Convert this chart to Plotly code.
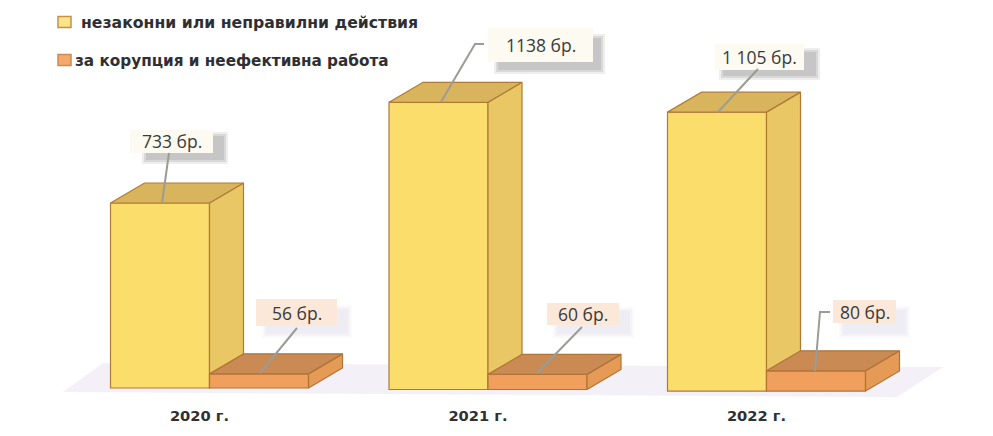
import plotly.graph_objects as go

years = ["2020 г.", "2021 г.", "2022 г."]
illegal = [733, 1138, 1105]
corruption = [56, 60, 80]
illegal_labels = ["733 бр.", "1138 бр.", "1 105 бр."]
corruption_labels = ["56 бр.", "60 бр.", "80 бр."]
legend_names = ["незаконни или неправилни действия", "за корупция и неефективна работа"]

W, H = 993, 436
PLOT_H = 403
X_UNIT = 278.5       # px per group
Y_UNIT = 0.2524      # px per item
X0 = 209.5           # px of group 0 centre
Y0 = 388             # px of value 0
BAR_W = 99 / X_UNIT
DX = 34 / X_UNIT
DY = 20 / Y_UNIT
DROP = 6             # the photographed page is slightly tilted

xr = [-X0 / X_UNIT, (W - X0) / X_UNIT]
yr = [(Y0 - PLOT_H) / Y_UNIT, Y0 / Y_UNIT]
positions = list(range(len(years)))
bases = [-DROP * i for i in positions]

YEL = dict(front="#fbdd6c", side="#e9c765", top="#d8b45c", line="#b07a36")
ORG = dict(front="#f0a05c", side="#e59a55", top="#c98a54", line="#b07436")


def faces(fig, xpos, base, val, pal, xa, ya):
    x0, x1 = xpos, xpos + BAR_W
    t = base + val
    for xs, ys, col in (
        ([x1, x1 + DX, x1 + DX, x1, x1], [base, base + DY, t + DY, t, base], pal["side"]),
        ([x0, x1, x1 + DX, x0 + DX, x0], [t, t, t + DY, t + DY, t], pal["top"]),
    ):
        fig.add_trace(go.Scatter(x=xs, y=ys, mode="lines", fill="toself", fillcolor=col,
                                 line=dict(color=pal["line"], width=1.2), hoverinfo="skip",
                                 showlegend=False, xaxis=xa, yaxis=ya))


fig = go.Figure()
fig.add_trace(go.Bar(x=positions, y=illegal, base=bases, width=BAR_W, offset=-BAR_W,
                     name=legend_names[0], showlegend=False,
                     marker=dict(color=YEL["front"], line=dict(color=YEL["line"], width=1.2))))
for p, b, v in zip(positions, bases, illegal):
    faces(fig, p - BAR_W, b, v, YEL, "x", "y")
fig.add_trace(go.Bar(x=positions, y=corruption, base=bases, width=BAR_W, offset=0,
                     name=legend_names[1], showlegend=False, xaxis="x2", yaxis="y2",
                     marker=dict(color=ORG["front"], line=dict(color=ORG["line"], width=1.2))))
for p, b, v in zip(positions, bases, corruption):
    faces(fig, p, b, v, ORG, "x2", "y2")


def px(x):
    return x / W


def py(y):
    return 1 - y / PLOT_H


shapes, annotations = [], []


def rect(x0, y0, x1, y1, color, layer="above"):
    shapes.append(dict(type="rect", xref="paper", yref="paper", x0=px(x0), x1=px(x1), y0=py(y0), y1=py(y1),
                       fillcolor=color, line=dict(width=0), layer=layer))


def path(points, color=None, line=None, layer="above"):
    d = "M" + " L".join(f"{px(a):.5f},{py(b):.5f}" for a, b in points)
    if color:
        d += " Z"
    s = dict(type="path", xref="paper", yref="paper", path=d, layer=layer,
             line=line or dict(width=0))
    if color:
        s["fillcolor"] = color
    shapes.append(s)


# floor
path([(63, 392), (103, 363), (943, 367), (897, 397)], color="#f3f0f7", layer="below")

# callouts: box, shadow, leader, text
callouts = [
    (illegal_labels[0], (130, 130, 213, 153), (146, 136, 224, 160), "#a9a9a9", "#fcfaf1",
     [(169, 153), (162, 203)]),
    (illegal_labels[1], (488, 28, 593, 62), (498, 38, 601, 70), "#a9a9a9", "#fcfaf1",
     [(484, 44), (475, 44), (441, 102)]),
    (illegal_labels[2], (715, 44, 804, 70), (723, 52, 816, 76), "#a9a9a9", "#fcfaf1",
     [(758, 69), (718, 112)]),
    (corruption_labels[0], (256, 299, 337, 326), (266, 309, 348, 334), "#e6e3ee", "#fbe8d8",
     [(297, 328), (260, 373)]),
    (corruption_labels[1], (547, 303, 619, 325), (557, 311, 630, 334), "#e6e3ee", "#fbe8d8",
     [(582, 327), (537, 373)]),
    (corruption_labels[2], (833, 300, 896, 323), (843, 310, 906, 334), "#e6e3ee", "#fbe8d8",
     [(830, 312), (820, 312), (815, 371)]),
]
for text, box, sh, shc, fill, pts in callouts:
    for grow, op in ((4, 0.2), (2, 0.3), (0, 0.4)):
        shapes.append(dict(type="rect", xref="paper", yref="paper",
                           x0=px(sh[0] - grow), x1=px(sh[2] + grow), y0=py(sh[1] - grow), y1=py(sh[3] + grow),
                           fillcolor=shc, opacity=op, line=dict(width=0), layer="above"))
    rect(*box, fill)
    path(pts, line=dict(color="#9c9c96", width=2))
    annotations.append(dict(text=text, xref="paper", yref="paper", x=px((box[0] + box[2]) / 2),
                            y=py((box[1] + box[3]) / 2), showarrow=False, xanchor="center", yanchor="middle",
                            font=dict(family="Open Sans", size=17.5, color="#3a3a3a")))

# legend
for (name, x_swatch, x_text, y, size, fill, edge) in (
    (legend_names[0], 58, 79, 23, 15.7, "#fbe58a", "#c98f45"),
    (legend_names[1], 58, 73, 61, 15.25, "#f4a96c", "#d08a4a"),
):
    shapes.append(dict(type="rect", xref="paper", yref="paper", x0=px(x_swatch), x1=px(x_swatch + 13),
                       y0=py(y - 6.5), y1=py(y + 4.5), fillcolor=fill, line=dict(color=edge, width=1.5)))
    annotations.append(dict(text=f"<b>{name}</b>", xref="paper", yref="paper", x=px(x_text), y=py(y),
                            showarrow=False, xanchor="left", yanchor="middle",
                            font=dict(family="DejaVu Sans", size=size, color="#2f2f33")))

axis_off = dict(visible=False, fixedrange=True)
fig.update_layout(
    width=W, height=H, margin=dict(l=0, r=0, t=0, b=H - PLOT_H),
    paper_bgcolor="white", plot_bgcolor="rgba(0,0,0,0)", barmode="overlay", showlegend=False,
    xaxis=dict(range=xr, tickmode="array", tickvals=[p - 10 / X_UNIT for p in positions], ticktext=years,
               showgrid=False, zeroline=False, showline=False, ticks="", ticklabelstandoff=2,
               tickfont=dict(family="DejaVu Sans", size=14.7, color="#303033", weight="bold")),
    yaxis=dict(range=yr, **axis_off),
    xaxis2=dict(range=xr, overlaying="x", **axis_off),
    yaxis2=dict(range=yr, overlaying="y", **axis_off),
    shapes=shapes, annotations=annotations,
)
fig.write_html("out.html", config=dict(displayModeBar=False),
               post_script="document.body.style.margin='0';")
